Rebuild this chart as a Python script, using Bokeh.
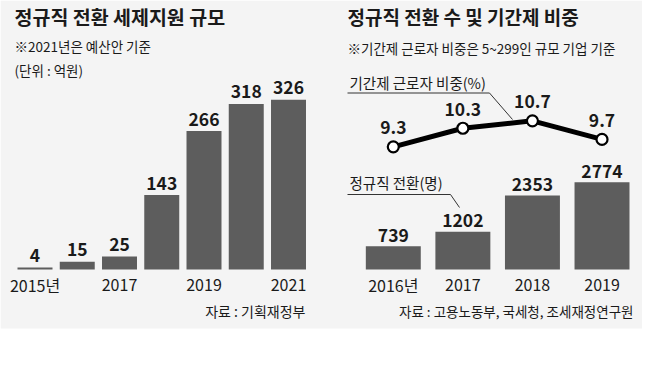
from bokeh.plotting import figure
from bokeh.models import Range1d, ColumnDataSource
from bokeh.embed import file_html
from bokeh.resources import INLINE
from bokeh.core.properties import value

# ---------------- data ----------------
left_title = "정규직 전환 세제지원 규모"
left_note = "※2021년은 예산안 기준"
left_unit = "(단위 : 억원)"
left_source = "자료 : 기획재정부"
left_years = [2015, 2016, 2017, 2018, 2019, 2020, 2021]
left_values = [4, 15, 25, 143, 266, 318, 326]
left_tick_years = [2015, 2017, 2019, 2021]
left_tick_labels = ["2015년", "2017", "2019", "2021"]

right_title = "정규직 전환 수 및 기간제 비중"
right_note = "※기간제 근로자 비중은 5~299인 규모 기업 기준"
right_source = "자료 : 고용노동부, 국세청, 조세재정연구원"
right_years = [2016, 2017, 2018, 2019]
conversions = [739, 1202, 2353, 2774]
temp_share = [9.3, 10.3, 10.7, 9.7]
right_tick_labels = ["2016년", "2017", "2018", "2019"]
share_label = "기간제 근로자 비중(%)"
conv_label = "정규직 전환(명)"

# ---------------- styling ----------------
W, H = 642, 350
FONT = value("Noto Sans CJK KR")
BAR = "#5d5d5d"
TXT = "#1a1a1a"
BG = "#f4f4f4"


def X(rx):
    return rx - 8


def Y(ry):
    return H + 8 - ry


p = figure(width=W, height=H, x_range=Range1d(0, W), y_range=Range1d(0, H),
           x_axis_type=None, y_axis_type=None, min_border=0,
           toolbar_location=None, output_backend="svg",
           background_fill_color="white", border_fill_color="white",
           outline_line_color=None)

# background panel
p.quad(left=[0], right=[W], bottom=[Y(336)], top=[H], fill_color=BG, line_color=None)

# scales for data
p.extra_x_ranges = {
    "lx": Range1d(2014.1834, 2029.3787),
    "rx": Range1d(2010.354, 2019.582),
}
p.extra_y_ranges = {
    "ly": Range1d(-155.6, 516.8),
    "ry": Range1d(-2571, 8540),
    "sy": Range1d(-1.669, 17.179),
}

# ---------- left panel ----------
lsrc = ColumnDataSource(dict(x=left_years, top=left_values,
                             lab=[str(v) for v in left_values]))
p.vbar(x="x", top="top", bottom=0, width=0.828, source=lsrc,
       x_range_name="lx", y_range_name="ly", fill_color=BAR, line_color=None)
p.text(x="x", y="top", text="lab", source=lsrc, x_range_name="lx", y_range_name="ly",
       text_font=FONT, text_font_style="bold", text_font_size="17.5px", text_color=TXT,
       text_align="center", text_baseline="middle", y_offset=-12)
ltick = ColumnDataSource(dict(x=left_tick_years, y=[0] * len(left_tick_years),
                              lab=left_tick_labels))
p.text(x="x", y="y", text="lab", source=ltick, x_range_name="lx", y_range_name="ly",
       text_font=FONT, text_font_size="16px", text_color=TXT,
       text_align="center", text_baseline="middle", y_offset=15)

# ---------- right panel ----------
rsrc = ColumnDataSource(dict(x=right_years, top=conversions,
                             lab=[str(v) for v in conversions],
                             s=temp_share, slab=[f"{v:.1f}" for v in temp_share],
                             zero=[0] * len(right_years), tick=right_tick_labels))
p.vbar(x="x", top="top", bottom=0, width=0.79, source=rsrc,
       x_range_name="rx", y_range_name="ry", fill_color=BAR, line_color=None)
p.text(x="x", y="top", text="lab", source=rsrc, x_range_name="rx", y_range_name="ry",
       text_font=FONT, text_font_style="bold", text_font_size="17.5px", text_color=TXT,
       text_align="center", text_baseline="middle", y_offset=-11)
p.text(x="x", y="zero", text="tick", source=rsrc, x_range_name="rx", y_range_name="ry",
       text_font=FONT, text_font_size="16px", text_color=TXT,
       text_align="center", text_baseline="middle", y_offset=15)

p.line(x="x", y="s", source=rsrc, x_range_name="rx", y_range_name="sy",
       line_color="black", line_width=5)
p.scatter(x="x", y="s", source=rsrc, x_range_name="rx", y_range_name="sy",
          size=11, fill_color="white", line_color="black", line_width=2.2)
p.text(x="x", y="s", text="slab", source=rsrc, x_range_name="rx", y_range_name="sy",
       text_font=FONT, text_font_style="bold", text_font_size="17.5px", text_color=TXT,
       text_align="center", text_baseline="middle", y_offset=-19)

# leader lines for series labels
p.line(x=[X(355), X(497), X(520)], y=[Y(100.5), Y(100.5), Y(127)],
       line_color="#333333", line_width=1)
p.line(x=[X(355), X(458), X(467)], y=[Y(202), Y(202), Y(215)],
       line_color="#333333", line_width=1)


def txt(x, y, s, size, bold=False, align="left"):
    p.text(x=[x], y=[y], text=[s], text_font=FONT, text_font_size=size,
           text_font_style="bold" if bold else "normal", text_color=TXT,
           text_align=align, text_baseline="middle")


txt(X(22), Y(24), left_title, "19.5px", bold=True)
txt(X(22), Y(53.5), left_note, "13.5px")
txt(X(22), Y(77), left_unit, "13.5px")
txt(X(313), Y(318), left_source, "14px", align="right")

txt(X(355), Y(24), right_title, "19px", bold=True)
txt(X(355), Y(55), right_note, "13.5px")
txt(X(357), Y(89.5), share_label, "14.5px")
txt(X(357), Y(189.5), conv_label, "14.5px")
txt(X(641), Y(318), right_source, "13.5px", align="right")

open("out.html", "w").write(file_html(p, INLINE))
